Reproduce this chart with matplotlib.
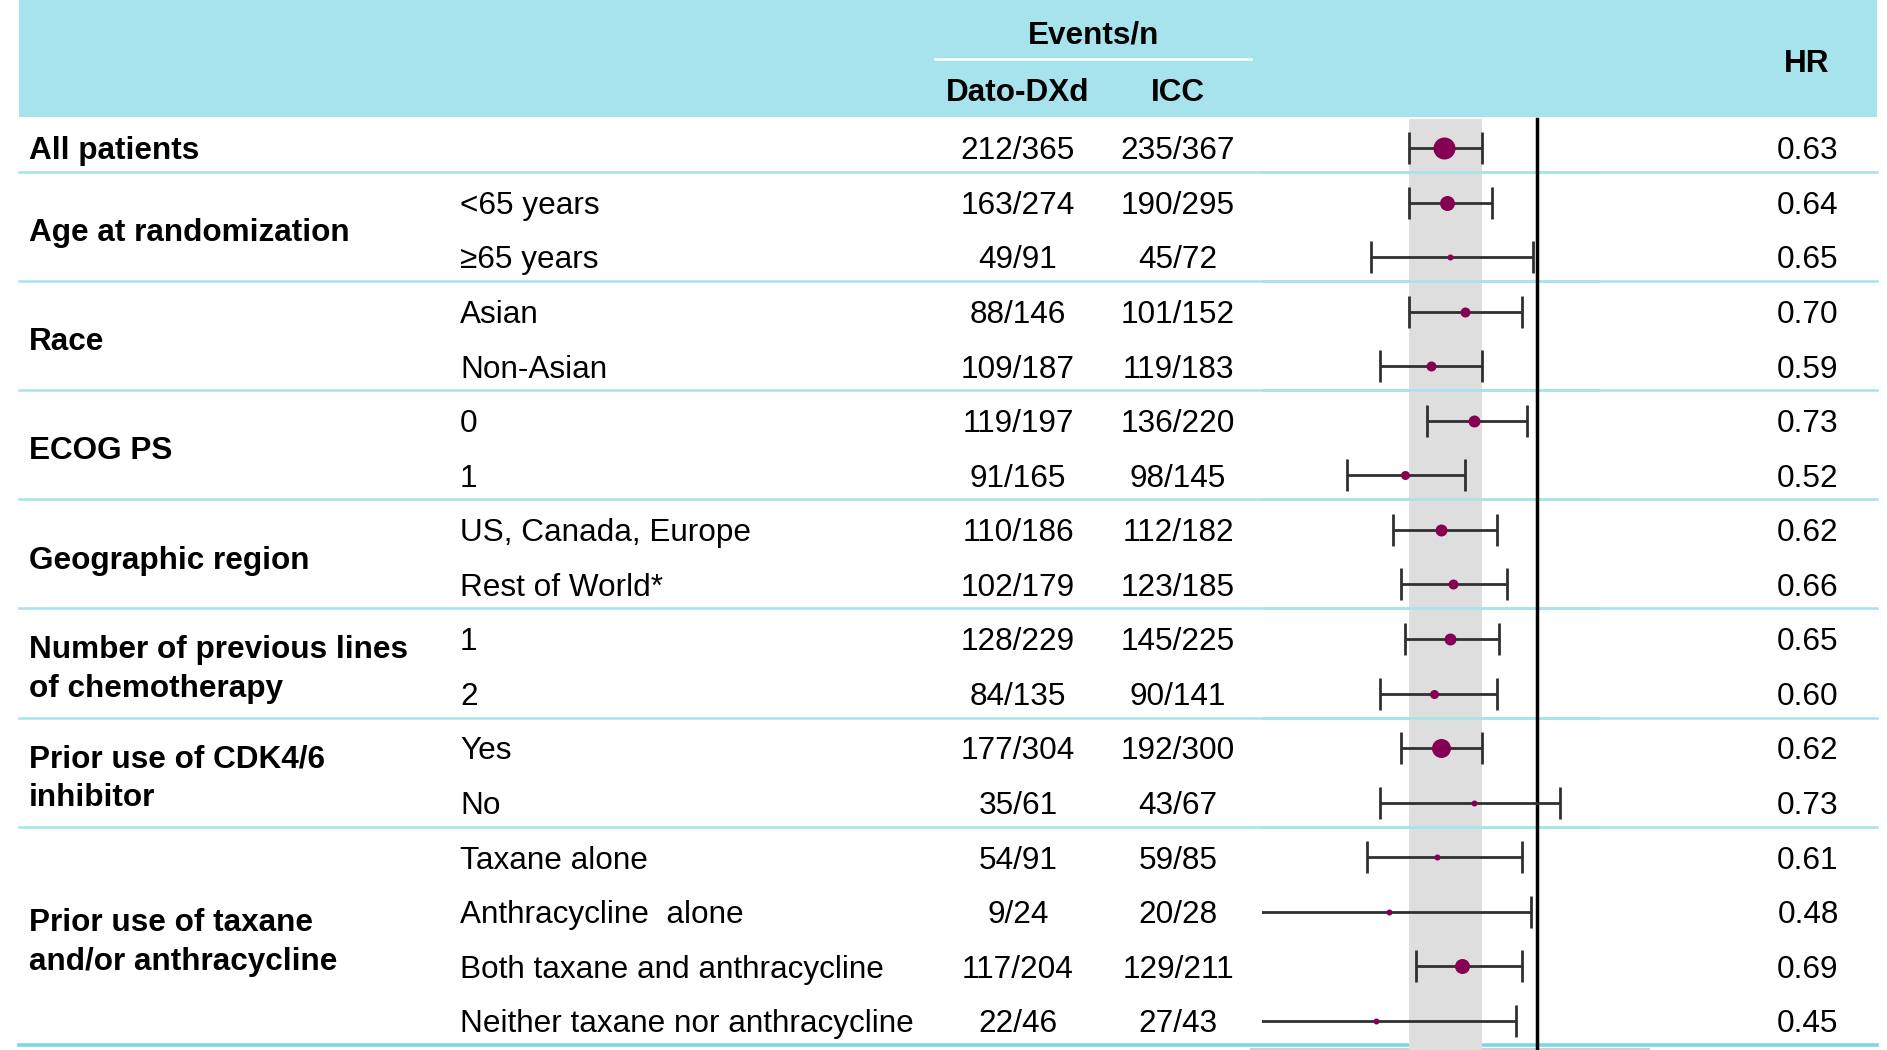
import matplotlib
matplotlib.use('Agg')
import matplotlib.pyplot as plt
import numpy as np

plt.rcParams['font.family'] = ['Liberation Sans', 'DejaVu Sans']

# subgroup table
groups = ['All patients', 'Age at randomization', 'Race', 'ECOG PS', 'Geographic region',
          'Number of previous lines\nof chemotherapy', 'Prior use of CDK4/6\ninhibitor',
          'Prior use of taxane\nand/or anthracycline']
group_rows = [[0], [1, 2], [3, 4], [5, 6], [7, 8], [9, 10], [11, 12], [13, 14, 15, 16]]
subgroups = ['', '<65 years', '≥65 years', 'Asian', 'Non-Asian', '0', '1',
             'US, Canada, Europe', 'Rest of World*', '1', '2', 'Yes', 'No',
             'Taxane alone', 'Anthracycline  alone', 'Both taxane and anthracycline',
             'Neither taxane nor anthracycline']
dato = ['212/365', '163/274', '49/91', '88/146', '109/187', '119/197', '91/165', '110/186',
        '102/179', '128/229', '84/135', '177/304', '35/61', '54/91', '9/24', '117/204', '22/46']
icc = ['235/367', '190/295', '45/72', '101/152', '119/183', '136/220', '98/145', '112/182',
       '123/185', '145/225', '90/141', '192/300', '43/67', '59/85', '20/28', '129/211', '27/43']
hr = [0.63, 0.64, 0.65, 0.70, 0.59, 0.73, 0.52, 0.62, 0.66, 0.65, 0.60, 0.62, 0.73,
      0.61, 0.48, 0.69, 0.45]
ci_lo = [0.53, 0.53, 0.44, 0.53, 0.46, 0.58, 0.39, 0.49, 0.51, 0.52, 0.46, 0.51, 0.46,
         0.43, 0.24, 0.55, 0.23]
ci_hi = [0.76, 0.80, 0.98, 0.93, 0.76, 0.95, 0.70, 0.82, 0.86, 0.83, 0.82, 0.76, 1.12,
         0.93, 0.97, 0.93, 0.90]
# marker diameter in pixels (study weight)
marker_px = [22, 15, 6, 10, 10, 12, 9, 12, 10, 12, 9, 19, 6, 6, 6, 15, 6]

# layout (pixels)
W, H = 1887, 1050
ROW0, ROWH = 148, 54.56
HEAD_BOT = 117
FS = 22.7
CAP = 11.3
X_GROUP, X_SUB, X_DATO, X_ICC, X_HR = 29, 460, 1018, 1178, 1808
FX0, FX1 = 1262, 1600
head_clr = '#a6e3ec'
line_clr = '#a6e3ec'
dot_clr = '#850052'

row_y = ROW0 + ROWH * np.arange(len(subgroups))
sep_rows = [g[-1] for g in group_rows]

fig = plt.figure(figsize=(W / 100, H / 100), dpi=100)
ax = fig.add_axes([0, 0, 1, 1])
ax.set_xlim(0, W)
ax.set_ylim(H, 0)
ax.axis('off')

# header
ax.add_patch(plt.Rectangle((19, 0), 1877 - 19, HEAD_BOT, color=head_clr, lw=0))
ax.plot([935, 1251], [59, 59], color='white', lw=1.8)
ax.text(1094, 32 + CAP, 'Events/n', ha='center', va='baseline', fontsize=FS, fontweight='bold')
ax.text(X_DATO, 90 + CAP, 'Dato-DXd', ha='center', va='baseline', fontsize=FS, fontweight='bold')
ax.text(X_ICC, 90 + CAP, 'ICC', ha='center', va='baseline', fontsize=FS, fontweight='bold')
ax.text(1807, 61 + CAP, 'HR', ha='center', va='baseline', fontsize=FS, fontweight='bold')

# separators
for k in sep_rows:
    y = row_y[k] + 24
    if k == len(subgroups) - 1:
        ax.plot([19, 1877], [y, y], color='#7dd6e3', lw=2.6)
    else:
        ax.plot([19, 1877], [y, y], color=line_clr, lw=1.8)
ax.plot([1251, 1649], [1049, 1049], color='#d0d0d0', lw=1.5)

# group labels
for g, rows in zip(groups, group_rows):
    yc = np.mean(row_y[rows])
    lines = g.split('\n')
    offs = (np.arange(len(lines)) - (len(lines) - 1) / 2) * 39
    for ln, o in zip(lines, offs):
        ax.text(X_GROUP, yc + o + CAP, ln, ha='left', va='baseline', fontsize=FS,
                fontweight='bold')

# rows
for i in range(len(subgroups)):
    y = row_y[i] + CAP
    ax.text(X_SUB, y, subgroups[i], ha='left', va='baseline', fontsize=FS)
    ax.text(X_DATO, y, dato[i], ha='center', va='baseline', fontsize=FS)
    ax.text(X_ICC, y, icc[i], ha='center', va='baseline', fontsize=FS)
    ax.text(X_HR, y, '%.2f' % hr[i], ha='center', va='baseline', fontsize=FS)

# forest plot
fa = fig.add_axes([FX0 / W, 0, (FX1 - FX0) / W, 1])
fa.patch.set_alpha(0)
fa.set_xscale('log')
fa.set_xlim(0.256, 1.366)
fa.set_ylim(H, 0)
fa.axis('off')

fa.fill_betweenx([HEAD_BOT + 2, H], ci_lo[0], ci_hi[0], color='#dedede', lw=0, zorder=1)
for k in sep_rows[:-1]:
    fa.axhline(row_y[k] + 24, color=line_clr, lw=1.8, zorder=2)
fa.plot([1, 1], [HEAD_BOT + 2, H], color='black', lw=2.5, zorder=3)

hr_a = np.array(hr)
xerr = [hr_a - np.array(ci_lo), np.array(ci_hi) - hr_a]
fa.errorbar(hr_a, row_y, xerr=xerr, fmt='none', ecolor='#303030', elinewidth=2.0,
            capsize=11.5, capthick=2.0, zorder=4)
for i in range(len(hr)):
    fa.plot(hr[i], row_y[i], 'o', color=dot_clr, ms=marker_px[i] / 1.389, mew=0, zorder=5)

fig.savefig('out.png', dpi=100)
